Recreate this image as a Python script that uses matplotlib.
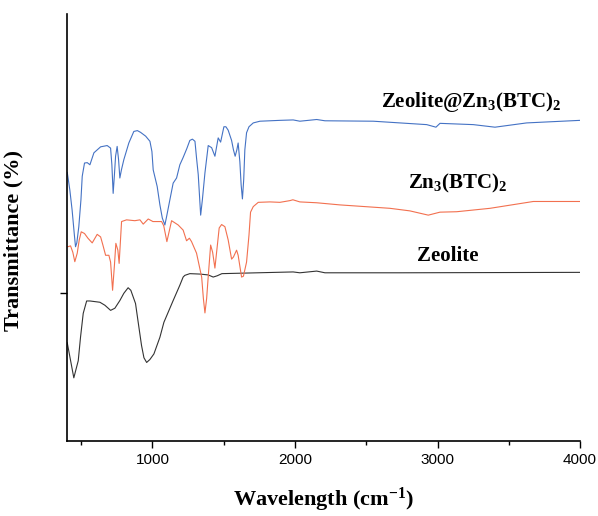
import matplotlib
matplotlib.use("Agg")
import matplotlib.pyplot as plt
from matplotlib.ticker import MultipleLocator

plt.rcParams['mathtext.default'] = 'regular'

# wavenumber (cm-1) and transmittance (arbitrary, offset)
zeolite_wn = [402, 448, 479, 495, 514, 538, 561, 631, 666, 706, 736, 771, 799, 829,
              848, 881, 898, 923, 940, 959, 982, 1010, 1052, 1080, 1145, 1192, 1215,
              1227, 1262, 1333, 1391, 1426, 1454, 1487, 1613, 1987, 2034, 2152, 2210,
              2736, 4000]
zeolite_t = [23.0, 14.8, 18.8, 24.3, 29.9, 32.8, 32.8, 32.5, 31.8, 30.6, 31.1, 32.9,
             34.6, 35.9, 35.3, 32.2, 28.2, 22.4, 19.5, 18.4, 19.1, 20.4, 24.3, 27.8,
             32.9, 36.5, 38.4, 38.8, 39.2, 39.1, 38.9, 38.4, 38.7, 39.2, 39.3, 39.6,
             39.4, 39.8, 39.4, 39.4, 39.5]

znbtc_wn = [406, 425, 441, 455, 472, 486, 500, 523, 547, 577, 612, 636, 652, 671, 694,
            706, 720, 733, 743, 757, 766, 783, 818, 876, 912, 935, 970, 1003, 1064,
            1079, 1101, 1134, 1180, 1215, 1239, 1259, 1274, 1309, 1345, 1357, 1368,
            1380, 1391, 1408, 1422, 1438, 1454, 1468, 1485, 1508, 1531, 1555, 1568,
            1590, 1601, 1625, 1638, 1660, 1677, 1688, 1707, 1742, 1824, 1894, 1964,
            1985, 2034, 2152, 2315, 2666, 2806, 2935, 3017, 3134, 3368, 3672, 4000]
znbtc_t = [45.5, 45.7, 44.2, 42.0, 44.0, 47.1, 49.0, 48.6, 47.5, 46.4, 48.4, 47.8,
           45.9, 43.5, 43.5, 41.9, 35.3, 41.2, 46.3, 44.7, 41.6, 51.4, 51.8, 51.6,
           51.8, 50.8, 52.0, 51.4, 51.4, 50.4, 46.7, 51.6, 50.6, 49.4, 46.9, 47.5,
           46.7, 44.0, 38.4, 33.4, 30.0, 33.4, 38.5, 45.9, 44.2, 40.5, 45.5, 49.9,
           50.7, 50.2, 47.1, 42.6, 43.1, 44.7, 43.5, 38.4, 38.6, 41.9, 48.2, 53.6,
           54.9, 55.9, 56.0, 55.9, 56.3, 56.5, 56.0, 55.8, 55.3, 54.5, 53.9, 52.9,
           53.6, 53.7, 54.5, 56.1, 56.1]

composite_wn = [402, 420, 436, 452, 460, 469, 483, 498, 507, 523, 542, 561, 589, 636,
                682, 706, 715, 724, 733, 741, 752, 762, 771, 782, 799, 834, 869, 894,
                916, 952, 982, 996, 1005, 1033, 1052, 1069, 1087, 1101, 1122, 1145,
                1169, 1192, 1215, 1241, 1262, 1280, 1298, 1309, 1321, 1338, 1350,
                1368, 1391, 1415, 1438, 1461, 1478, 1501, 1515, 1531, 1555, 1568,
                1580, 1592, 1601, 1613, 1622, 1631, 1640, 1648, 1660, 1677, 1707,
                1754, 1894, 1987, 2034, 2152, 2210, 2549, 2924, 2989, 3017, 3251,
                3403, 3625, 4000]
composite_t = [62.9, 58.8, 54.1, 48.2, 45.5, 46.4, 50.2, 56.5, 62.0, 65.1, 65.2, 64.7,
               67.5, 68.9, 69.2, 68.6, 64.7, 58.0, 62.4, 66.7, 69.0, 65.9, 61.6, 63.5,
               65.9, 69.8, 72.5, 72.7, 72.3, 71.4, 70.2, 67.8, 63.5, 59.6, 55.3, 52.2,
               50.6, 52.9, 56.5, 60.4, 61.6, 64.7, 66.4, 68.5, 70.4, 70.7, 70.2, 66.3,
               62.4, 52.9, 56.5, 62.8, 69.2, 68.7, 66.7, 71.0, 70.0, 73.6, 73.6, 72.8,
               70.4, 68.2, 66.7, 68.2, 69.8, 65.4, 60.0, 56.7, 61.2, 68.2, 72.2, 73.6,
               74.5, 74.9, 75.1, 75.2, 74.9, 75.3, 75.0, 74.9, 74.1, 73.5, 74.4, 74.1,
               73.5, 74.5, 75.1]

xticks = [1000, 2000, 3000, 4000]
yticks = [34.6]

fig = plt.figure(figsize=(5.98, 5.16), dpi=100)
ax = fig.add_axes([0.112, 0.1453, 0.858, 0.8275])

ax.plot(zeolite_wn, zeolite_t, color='#333333', lw=0.8, solid_joinstyle='round')
ax.plot(znbtc_wn, znbtc_t, color='#F2704F', lw=0.8, solid_joinstyle='round')
ax.plot(composite_wn, composite_t, color='#4472C4', lw=0.8, solid_joinstyle='round')

serif = 'Liberation Serif'
# curve labels
ax.text(3235, 79.3, 'Zeolite@Zn$_3$(BTC)$_2$', ha='center', va='center',
        fontsize=15, fontweight='bold', family=serif)
ax.text(3143, 60.3, 'Zn$_3$(BTC)$_2$', ha='center', va='center',
        fontsize=15, fontweight='bold', family=serif)
ax.text(3073, 43.3, 'Zeolite', ha='center', va='center',
        fontsize=15, fontweight='bold', family=serif)

ax.set_xlim(400, 4000)
ax.set_ylim(0, 100)
ax.set_xticks(xticks)
ax.xaxis.set_minor_locator(MultipleLocator(500))
ax.set_yticks(yticks)
ax.set_yticklabels([])
ax.tick_params(axis='both', which='major', direction='out', length=5, width=1)
ax.tick_params(axis='x', which='minor', direction='out', length=3, width=1)
for lab in ax.get_xticklabels():
    lab.set_family('Liberation Sans')
    lab.set_fontsize(11)

for s in ['top', 'right']:
    ax.spines[s].set_visible(False)
for s in ['left', 'bottom']:
    ax.spines[s].set_linewidth(1.2)

ax.set_xlabel('Wavelength (cm$^{-1}$)', fontsize=16, fontweight='bold',
              family=serif)
ax.xaxis.set_label_coords(0.5, -0.105)
ax.set_ylabel('Transmittance (%)', fontsize=16, fontweight='bold', family=serif)
ax.yaxis.set_label_coords(-0.085, 0.47)

fig.savefig('out.png', dpi=100)
